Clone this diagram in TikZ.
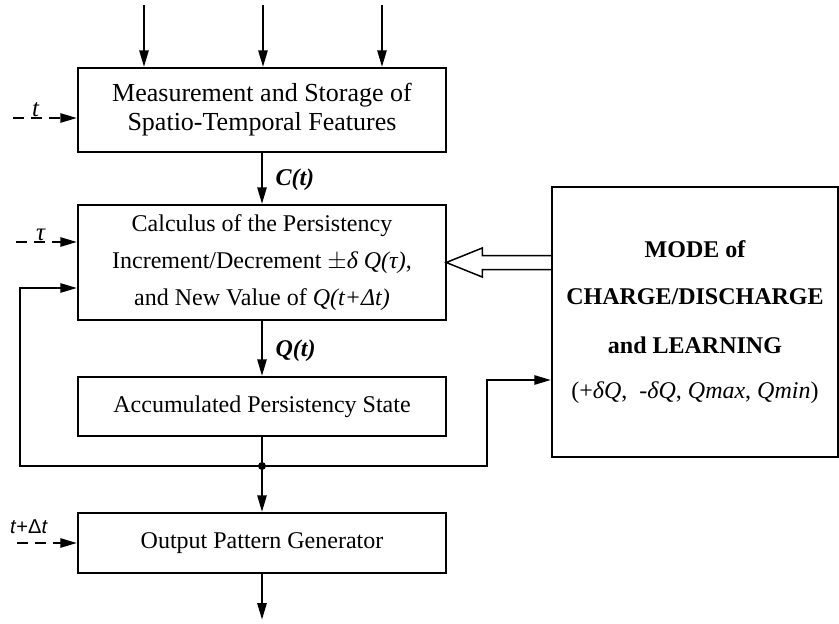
\documentclass[tikz,border=0pt]{standalone}
\usepackage{fontspec}
\setmainfont{Liberation Serif}
\setsansfont{Liberation Sans}
\usetikzlibrary{arrows.meta,positioning,calc}

\begin{document}
\begin{tikzpicture}[x=1pt, y=-1pt,
        block/.style={draw, line width=1.5pt, minimum width=368pt, align=center, inner sep=0pt, font=\fontsize{24}{29}\selectfont},
        arrow/.style={-{Triangle[length=17pt,width=9pt]}, line width=2.8pt},
        dashin/.style={arrow, dash pattern=on 11pt off 7pt},
        sig/.style={anchor=west, font=\fontsize{24}{26}\selectfont\bfseries\itshape}
    ]
        \useasboundingbox (0,0) rectangle (839,624);

        % Blocks
        \node[block, minimum height=84pt, font=\fontsize{26}{29}\selectfont] (meas) at (262,110) {Measurement and Storage of\\Spatio-Temporal Features};
        \node[block, minimum height=115pt] (calc) at (262,262.5) {
            Calculus of the Persistency\\[8pt]
            Increment/Decrement $\pm$\textit{δ Q(τ)},\\[8pt]
            and New Value of \textit{Q(t+Δt)}
        };
        \node[block, minimum height=59pt] (accu) at (262,406.5) {Accumulated Persistency State};
        \node[block, minimum height=60pt] (outp) at (262,543) {Output Pattern Generator};

        % Mode block
        \node[draw, line width=1.5pt, minimum width=286pt, minimum height=270pt, align=center,
              font=\fontsize{24}{47}\selectfont\bfseries] (mode) at (695,322) {
            MODE of\\
            CHARGE/DISCHARGE\\[2pt]
            and LEARNING\\[-2pt]
            {\mdseries (+\textit{δQ},\ \ -\textit{δQ}, \textit{Qmax}, \textit{Qmin})}
        };

        % Inputs on top
        \foreach \x [count=\i] in {144,263,382} {
            \coordinate (in\i) at (\x,5);
            \draw[arrow] (in\i) -- (in\i |- meas.north);
        }

        % Main chain
        \draw[arrow] (meas) -- (calc);
        \draw[arrow] (calc) -- (accu);
        \draw[arrow] (accu) -- (outp);
        \coordinate (out) at (262,620);
        \draw[arrow] (outp) -- (out);
        \node[sig] (clab) at (272,180) {C(t)};
        \node[sig] (qlab) at (272,351) {Q(t)};

        % Feedback
        \coordinate (junc) at (262,466);
        \coordinate (fbl) at (20,288);
        \coordinate (fbr) at (487,380);
        \draw[arrow] (junc) -| (fbl) -- (fbl -| calc.west);
        \draw[arrow] (junc) -| (fbr) -- (fbr -| mode.west);
        \fill (junc) circle (4pt);

        % Hollow arrow from mode
        \draw[line width=1.5pt] (calc.east -| mode.west) ++(0,-7) -- ++(-69,0) -- ++(0,-7.5)
            -- ++(-36,14.5) -- ++(36,14.5) -- ++(0,-7.5) -- ++(69,0);

        % Time inputs
        \coordinate (tin) at (13,118);
        \coordinate (tauin) at (16,242);
        \coordinate (tdin) at (17,543);
        \draw[dashin] (tin) -- (tin -| meas.west) node[pos=0.35, above=-3pt, font=\fontsize{25}{26}\selectfont\itshape] (tlab) {t};
        \draw[dashin] (tauin) -- (tauin -| calc.west) node[pos=0.4, above=-3pt, font=\fontsize{25}{26}\selectfont\itshape] (taulab) {τ};
        \draw[dashin] (tdin) -- (tdin -| outp.west);
        \node[font=\fontsize{20}{22}\selectfont\sffamily] (tdlab) at (29,527) {\textit{t}+Δ\textit{t}};
    \end{tikzpicture}
\end{document}
